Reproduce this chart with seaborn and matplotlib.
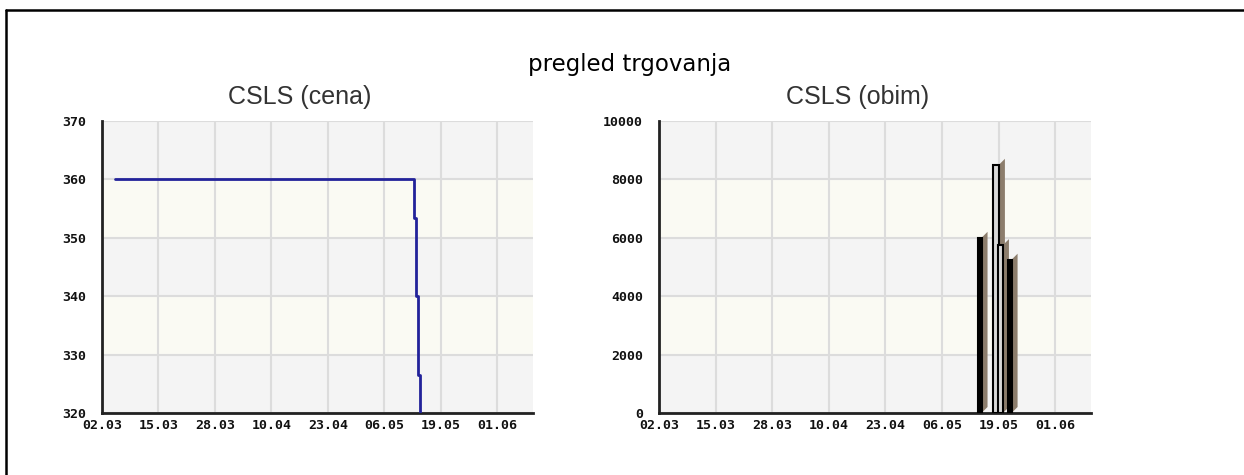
import numpy as np
import pandas as pd
import matplotlib
matplotlib.use("Agg")
import matplotlib.pyplot as plt
import seaborn as sns
from matplotlib.lines import Line2D
from matplotlib.patches import Polygon

# DATA
date_labels = ["02.03", "15.03", "28.03", "10.04", "23.04", "06.05", "19.05", "01.06"]

# price (days after 02.03, value)
price_days = [3.0, 71.7, 72.3, 72.7, 73.1]
price_values = [360, 353.4, 340, 326.5, 318]

# volume (days after 02.03, value)
volume_days = [73.6, 77.4, 78.4, 80.5]
volume_values = [6000, 8500, 5750, 5250]

# bar look
volume_widths = [0.92, 1.3, 1.15, 0.92]
volume_fills = ["black", "#d8d8d8", "#d8d8d8", "black"]

start = pd.Timestamp("2012-03-02")
tick_days = [(pd.to_datetime(d + ".2012", format="%d.%m.%Y") - start).days for d in date_labels]

sns.set_style("white")
plt.rcParams["font.family"] = ["DejaVu Sans"]

W, H = 1244, 475
fig = plt.figure(figsize=(W / 100, H / 100), dpi=100)


def style_axes(ax, ymin, ymax, ystep):
    ax.set_facecolor("#f4f4f4")
    for lo in np.arange(ymin + ystep, ymax, 2 * ystep):
        ax.axhspan(lo, lo + ystep, color="#fafaf3", lw=0, zorder=0.1)
    ax.set_axisbelow(True)
    ax.grid(True, color="#dcdcdc", lw=1.5)
    ax.set_xlim(0, 99.2)
    ax.set_ylim(ymin, ymax)
    ax.set_xticks(tick_days)
    ax.set_xticklabels(date_labels)
    ax.set_yticks(np.arange(ymin, ymax + ystep / 2, ystep))
    ax.set_yticks(np.arange(ymin, ymax, ystep / 2), minor=True)
    ax.tick_params(axis="both", which="major", direction="in", length=8, width=1.5, color="#222222")
    ax.tick_params(axis="y", which="minor", direction="in", length=5.5, width=1.5, color="#222222")
    ax.tick_params(axis="y", pad=11.5)
    ax.tick_params(axis="x", pad=4)
    for s in ["top", "right"]:
        ax.spines[s].set_visible(False)
    for s in ["left", "bottom"]:
        ax.spines[s].set_color("#222222")
        ax.spines[s].set_linewidth(2)
    for lbl in ax.get_xticklabels() + ax.get_yticklabels():
        lbl.set_fontfamily("DejaVu Sans Mono")
        lbl.set_fontweight("bold")
        lbl.set_fontsize(9.5)
        lbl.set_color("#111111")
    ax.set_xlabel("")
    ax.set_ylabel("")


# left: price
ax1 = fig.add_axes([102 / W, 1 - 413 / H, 431 / W, 292 / H])
sns.lineplot(x=price_days, y=price_values, ax=ax1, color="#22229a", lw=2,
             drawstyle="steps-post", zorder=5)
style_axes(ax1, 320, 370, 10)

# right: volume
ax2 = fig.add_axes([659 / W, 1 - 413 / H, 432 / W, 292 / H])
dx = 6 / 4.346
dy = 6 * 10000 / 292
for i, (d, v, w, c) in enumerate(zip(volume_days, volume_values, volume_widths, volume_fills)):
    xr = d + w / 2
    ax2.add_patch(Polygon([(xr, 0), (xr, v), (xr + dx, v + dy), (xr + dx, dy)],
                          closed=True, facecolor="#8c7d6c", edgecolor="none", zorder=3 + 2 * i))
    ax2.bar(d, v, width=w, color=c, edgecolor="black", lw=1.5, zorder=4 + 2 * i)
style_axes(ax2, 0, 10000, 2000)

# titles
fig.text(630 / W, 1 - 65 / H, "pregled trgovanja", ha="center", va="center",
         fontsize=16.5, color="black", family="DejaVu Sans")
fig.text(300 / W, 1 - 97 / H, "CSLS (cena)", ha="center", va="center",
         fontsize=18, color="#333333", family="Liberation Sans")
fig.text(858 / W, 1 - 97 / H, "CSLS (obim)", ha="center", va="center",
         fontsize=18, color="#333333", family="Liberation Sans")

# frame (top and left edges only)
fig.add_artist(Line2D([6 / W, 1], [1 - 10 / H, 1 - 10 / H], color="black", lw=1.8))
fig.add_artist(Line2D([6 / W, 6 / W], [0, 1 - 10 / H], color="black", lw=1.8))

fig.savefig("out.png", dpi=100)
